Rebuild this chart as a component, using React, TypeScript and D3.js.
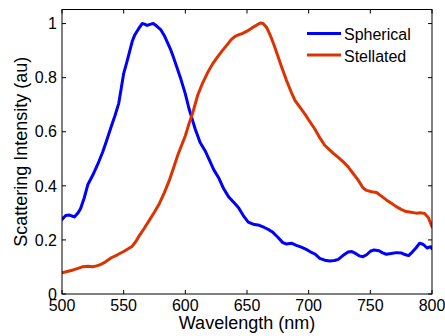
import React from "react";
import * as d3 from "d3";

const xTicks = [500, 550, 600, 650, 700, 750, 800];
const yTicks = [0, 0.2, 0.4, 0.6, 0.8, 1];
const yTickLabels = ["0", "0.2", "0.4", "0.6", "0.8", "1"];
const seriesNames = ["Spherical", "Stellated"];

const sphericalWl = [500, 503, 506, 510, 513, 515, 518, 521, 525, 529, 533, 536, 540, 543, 546, 548, 550, 553, 555, 557, 559, 562, 565, 567, 569, 572, 574, 577, 580, 583, 585, 588, 590, 593, 596, 600, 603, 605, 608, 612, 616, 620, 623, 627, 631, 635, 639, 643, 647, 651, 655, 660, 664, 668, 671, 675, 679, 682, 686, 690, 694, 698, 701, 705, 709, 713, 717, 721, 724, 728, 732, 735, 738, 741, 744, 747, 750, 753, 757, 760, 763, 767, 771, 775, 778, 781, 784, 787, 790, 793, 796, 799, 800];
const sphericalVal = [0.276, 0.29, 0.292, 0.285, 0.3, 0.315, 0.355, 0.405, 0.44, 0.48, 0.525, 0.565, 0.62, 0.66, 0.705, 0.76, 0.815, 0.865, 0.9, 0.935, 0.958, 0.98, 1.0, 0.998, 0.993, 0.998, 1.0, 0.99, 0.978, 0.955, 0.935, 0.905, 0.88, 0.84, 0.8, 0.74, 0.685, 0.655, 0.61, 0.56, 0.53, 0.49, 0.46, 0.43, 0.39, 0.36, 0.34, 0.32, 0.29, 0.266, 0.258, 0.254, 0.246, 0.237, 0.228, 0.21, 0.19, 0.185, 0.188, 0.18, 0.173, 0.165, 0.157, 0.148, 0.132, 0.125, 0.122, 0.124, 0.128, 0.143, 0.155, 0.157, 0.15, 0.141, 0.138, 0.145, 0.158, 0.163, 0.16, 0.152, 0.147, 0.15, 0.153, 0.152, 0.146, 0.142, 0.155, 0.17, 0.188, 0.183, 0.17, 0.175, 0.168];

const stellatedWl = [500, 505, 509, 513, 517, 521, 525, 528, 531, 535, 540, 545, 550, 554, 557, 560, 563, 567, 571, 575, 579, 583, 587, 590, 594, 597, 600, 603, 606, 610, 614, 618, 622, 626, 630, 634, 637, 640, 643, 646, 650, 654, 658, 661, 663, 666, 669, 672, 675, 678, 682, 686, 689, 693, 697, 701, 705, 709, 713, 717, 720, 724, 728, 732, 735, 740, 744, 747, 751, 755, 759, 763, 767, 771, 775, 779, 783, 787, 791, 794, 797, 799, 800];
const stellatedVal = [0.078, 0.084, 0.089, 0.095, 0.101, 0.103, 0.101, 0.104, 0.108, 0.118, 0.134, 0.145, 0.157, 0.168, 0.177, 0.195, 0.218, 0.245, 0.274, 0.303, 0.335, 0.375, 0.42, 0.46, 0.515, 0.55, 0.585, 0.63, 0.67, 0.735, 0.78, 0.818, 0.85, 0.876, 0.9, 0.922, 0.94, 0.952, 0.958, 0.963, 0.972, 0.984, 0.995, 1.002, 1.0, 0.985, 0.955, 0.92, 0.88, 0.84, 0.79, 0.745, 0.715, 0.69, 0.665, 0.637, 0.61, 0.578, 0.55, 0.533, 0.52, 0.505, 0.489, 0.47, 0.452, 0.422, 0.393, 0.383, 0.378, 0.375, 0.362, 0.348, 0.336, 0.323, 0.313, 0.305, 0.302, 0.299, 0.3, 0.298, 0.283, 0.26, 0.249];

const colors = ["#0000ff", "#dc3300"];

const W = 445;
const H = 336;
const L = 62, R = 432, T = 9.5, B = 294;
const FONT = "'Liberation Sans', Arial, Helvetica, sans-serif";

export default function App() {
  const x = d3.scaleLinear().domain([500, 800]).range([L, R]);
  const y = d3.scaleLinear().domain([0, 1.052]).range([B, T]);
  const line = d3
    .line<[number, number]>()
    .x((d) => x(d[0]))
    .y((d) => y(d[1]));
  const series = [
    d3.zip(sphericalWl, sphericalVal) as [number, number][],
    d3.zip(stellatedWl, stellatedVal) as [number, number][],
  ];
  const tl = 4;
  return (
    <svg
      width={W}
      height={H}
      style={{ position: "absolute", left: 0, top: 0, background: "#fff" }}
      fontFamily={FONT}
    >
      <rect x={0} y={0} width={W} height={H} fill="#fff" />
      <defs>
        <clipPath id="plot">
          <rect x={L} y={T} width={R - L} height={B - T} />
        </clipPath>
      </defs>
      {series.map((s, i) => (
        <path
          key={i}
          d={line(s) || ""}
          fill="none"
          stroke={colors[i]}
          strokeWidth={3}
          strokeLinejoin="round"
          strokeLinecap="round"
          clipPath="url(#plot)"
        />
      ))}
      <rect x={L} y={T} width={R - L} height={B - T} fill="none" stroke="#000" strokeWidth={1} />
      {xTicks.map((t) => (
        <g key={"x" + t}>
          <line x1={x(t)} x2={x(t)} y1={B} y2={B - tl} stroke="#000" />
          <line x1={x(t)} x2={x(t)} y1={T} y2={T + tl} stroke="#000" />
          <text x={x(t)} y={311} fontSize={16} textAnchor="middle" fill="#000">
            {t}
          </text>
        </g>
      ))}
      {yTicks.map((t, i) => (
        <g key={"y" + t}>
          <line x1={L} x2={L + tl} y1={y(t)} y2={y(t)} stroke="#000" />
          <line x1={R} x2={R - tl} y1={y(t)} y2={y(t)} stroke="#000" />
          <text x={57} y={y(t)} dy="0.36em" fontSize={16} textAnchor="end" fill="#000">
            {yTickLabels[i]}
          </text>
        </g>
      ))}
      <text x={(L + R) / 2} y={329} fontSize={18} textAnchor="middle" fill="#000">
        Wavelength (nm)
      </text>
      <text
        transform={`translate(27,${(T + B) / 2}) rotate(-90)`}
        fontSize={18}
        textAnchor="middle"
        fill="#000"
      >
        Scattering Intensity (au)
      </text>
      {seriesNames.map((n, i) => (
        <g key={n}>
          <line x1={307} x2={341} y1={33.5 + i * 21.5} y2={33.5 + i * 21.5} stroke={colors[i]} strokeWidth={3} />
          <text x={344} y={40 + i * 21.5} fontSize={16} fill="#000">
            {n}
          </text>
        </g>
      ))}
    </svg>
  );
}
